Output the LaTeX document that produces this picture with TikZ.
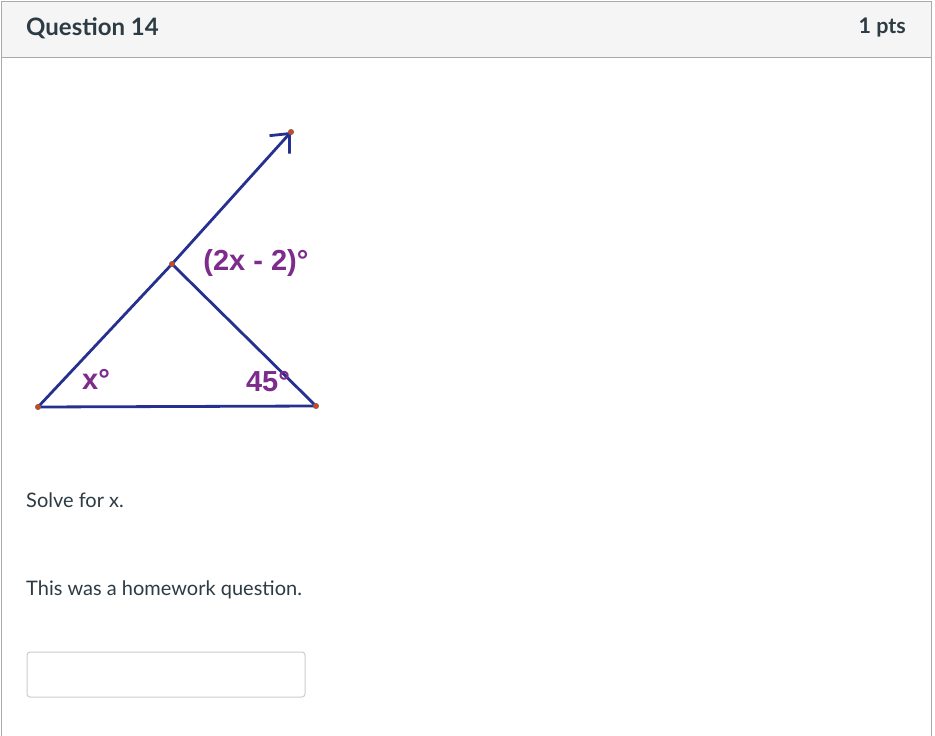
\documentclass[tikz,border=0pt]{standalone}
\usepackage{fontspec}
\setmainfont{Lato}
\newfontfamily\figfont{Liberation Sans}
\usetikzlibrary{arrows.meta}
\definecolor{navy}{HTML}{26308F}
\definecolor{lbl}{HTML}{7D2C8C}
\definecolor{dotc}{HTML}{D2461E}
\definecolor{hdr}{HTML}{F5F5F5}
\definecolor{frame}{HTML}{AAAAAA}
\definecolor{txt}{HTML}{2D3B45}
\definecolor{boxc}{HTML}{C7CDD1}
\tikzset{
  seg/.style={navy, line width=2.8pt, line cap=round},
  pt/.style={circle, fill=dotc, draw=black!60, line width=0.4pt, inner sep=0pt, minimum size=5.5pt},
  anglbl/.style={lbl, font=\figfont\bfseries\fontsize{29}{32}\selectfont, inner sep=0pt},
  body/.style={txt, font=\fontsize{20}{24}\selectfont, anchor=west, inner sep=0pt},
}
\begin{document}
\begin{tikzpicture}[x=1pt,y=-1pt]
\useasboundingbox (0,0) rectangle (935,736);
\fill[white] (0,0) rectangle (935,736);
% header
\fill[hdr] (1,1) rectangle (931,57);
\draw[frame, line width=1pt] (1,736) -- (1,1) -- (931,1) -- (931,736);
\draw[frame, line width=1pt] (1,57) -- (931,57);
\node[txt, font=\bfseries\fontsize{24}{28}\selectfont, anchor=west, inner sep=0pt] (title) at (26,28) {Question 14};
\node[txt, font=\bfseries\fontsize{21.5}{26}\selectfont, anchor=east, inner sep=0pt] (pts) at (906,28) {1 pts};
% figure
\coordinate (A) at (38,407);
\coordinate (B) at (316,406);
\coordinate (C) at (172,264);
\coordinate (D) at (291,132);
\draw[seg] (A) -- (B);
\draw[seg] (A) -- (C);
\draw[seg] (C) -- (B);
\draw[seg, -{Straight Barb[length=15pt, width=27pt, line width=2.8pt]}] (C) -- (D);
\node[pt] (pA) at (A) {};
\node[pt] (pB) at (B) {};
\node[pt] (pC) at (C) {};
\node[pt] (pD) at (D) {};
\node[anglbl] (l1) at (256,263) {(2x - 2)\textdegree};
\node[anglbl] (l2) at (96,379) {x\textdegree};
\node[anglbl] (l3) at (268,382) {45\textdegree};
% text
\node[body] (q) at (26,500) {Solve for x.};
\node[body] (h) at (26,590) {This was a homework question.};
\draw[boxc, line width=1pt, rounded corners=3pt, fill=white] (27,652) rectangle (305,697);
\end{tikzpicture}
\end{document}
